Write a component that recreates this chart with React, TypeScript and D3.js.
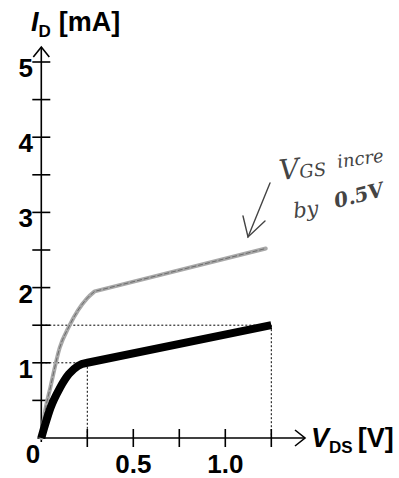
import React from "react";
import * as d3 from "d3";

// drain current [mA] vs drain-source voltage [V]
// last point of each series is the straight saturation segment
const baseV = [0, 0.02, 0.05, 0.1, 0.15, 0.2, 0.25, 1.25];
const baseI = [0, 0.17, 0.4, 0.66, 0.85, 0.96, 1.0, 1.5];

const highV = [0, 0.02, 0.05, 0.1, 0.15, 0.2, 0.25, 0.29, 1.22];
const highI = [0, 0.35, 0.68, 1.2, 1.48, 1.7, 1.86, 1.95, 2.52];

const yTicks = [0.5, 1, 1.5, 2, 2.5, 3, 3.5, 4, 4.5, 5];
const yLabels = [1, 2, 3, 4, 5];
const xTicks = [0.25, 0.5, 0.75, 1.0, 1.25];
const xLabels = ["0.5", "1.0"];

// dotted guides: [V, I] corners
const guides = [
  [0.25, 1],
  [1.25, 1.5],
];

function App() {
  const w = 399,
    h = 478;

  const x = d3.scaleLinear().domain([0, 1.25]).range([41.3, 271.3]);
  const y = d3.scaleLinear().domain([0, 5]).range([438, 62]);

  const mono = d3
    .line<[number, number]>()
    .x((d) => x(d[0]))
    .y((d) => y(d[1]))
    .curve(d3.curveMonotoneX);

  // curved triode part, then a straight line to the last point
  function curvePath(vs: number[], is: number[]) {
    const pts = vs.map((v, i) => [v, is[i]] as [number, number]);
    const last = pts[pts.length - 1];
    return (mono(pts.slice(0, -1)) || "") + `L${x(last[0])},${y(last[1])}`;
  }

  const font = "'Liberation Sans', Arial, sans-serif";
  const x0 = x(0),
    y0 = y(0);

  return (
    <svg
      width={w}
      height={h}
      style={{ position: "absolute", left: 0, top: 0, background: "#fff" }}
      fontFamily={font}
    >
      {/* dotted guides */}
      {guides.map((g, i) => (
        <g key={i} stroke="#000" strokeWidth={1} strokeDasharray="2,2" fill="none">
          <line x1={x0} x2={x(g[0])} y1={y(g[1])} y2={y(g[1])} />
          <line x1={x(g[0])} x2={x(g[0])} y1={y(g[1])} y2={y0} />
        </g>
      ))}

      {/* axes */}
      <g stroke="#000" strokeWidth={1.6} fill="none">
        <line x1={x0} x2={x0} y1={y0 + 4} y2={47} />
        <polyline points={`${x0 - 8},${57} ${x0},${47} ${x0 + 8},${57}`} />
        <line x1={x0 - 4} x2={305} y1={y0} y2={y0} />
        <polyline points={`${295},${y0 - 8} ${305},${y0} ${295},${y0 + 8}`} />
        {yTicks.map((t) => (
          <line key={t} x1={x0 - 9} x2={x0 + 9} y1={y(t)} y2={y(t)} />
        ))}
        {xTicks.map((t) => (
          <line key={t} x1={x(t)} x2={x(t)} y1={y0 - 9} y2={y0 + 9} />
        ))}
      </g>

      {/* tick labels */}
      {yLabels.map((t) => (
        <text
          key={t}
          x={33}
          y={y(t) + 15}
          textAnchor="end"
          fontSize={26}
          fontWeight="bold"
        >
          {t}
        </text>
      ))}
      <text x={33} y={463} fontSize={26} fontWeight="bold" textAnchor="middle">
        0
      </text>
      {xLabels.map((t) => (
        <text
          key={t}
          x={x(+t)}
          y={473}
          fontSize={26}
          fontWeight="bold"
          textAnchor="middle"
        >
          {t}
        </text>
      ))}

      {/* axis titles */}
      <text x={31} y={31} fontSize={27} fontWeight="bold">
        <tspan fontStyle="italic">I</tspan>
        <tspan fontSize={17} dy={6}>D</tspan>
        <tspan dy={-6} dx={8}>[mA]</tspan>
      </text>
      <text x={311} y={447} fontSize={27} fontWeight="bold">
        <tspan fontStyle="italic">V</tspan>
        <tspan fontSize={17} dy={6}>DS</tspan>
        <tspan dy={-6} dx={5}>[V]</tspan>
      </text>

      {/* curves */}
      <path
        d={curvePath(highV, highI)}
        fill="none"
        stroke="#a8a8a8"
        strokeWidth={4}
        strokeLinecap="round"
        strokeLinejoin="round"
      />
      <path
        d={curvePath(highV, highI)}
        fill="none"
        stroke="#6c6c6c"
        strokeWidth={1}
        strokeDasharray="5,2"
      />
      <path
        d={curvePath(baseV, baseI)}
        fill="none"
        stroke="#000"
        strokeWidth={8}
        strokeLinecap="butt"
        strokeLinejoin="round"
      />

      {/* handwritten note */}
      <g stroke="#444" strokeWidth={1.4} fill="none" strokeLinecap="round">
        <line x1={270} y1={183} x2={248} y2={237} />
        <polyline points="243,216 248,237 265,221" />
      </g>
      <g fill="#444" fontFamily="'DejaVu Serif', serif" fontStyle="italic">
        <text x={280} y={180} fontSize={28} transform="rotate(-6 280 180)">
          V<tspan fontSize={18}>GS</tspan>
        </text>
        <text x={338} y={168} fontSize={18} transform="rotate(-8 338 168)">
          incre
        </text>
        <text x={294} y={218} fontSize={21} transform="rotate(-6 294 218)">
          by
        </text>
        <text
          x={336}
          y={208}
          fontSize={20}
          fontWeight="bold"
          transform="rotate(-14 336 208)"
        >
          0.5V
        </text>
      </g>
    </svg>
  );
}

export default App;
